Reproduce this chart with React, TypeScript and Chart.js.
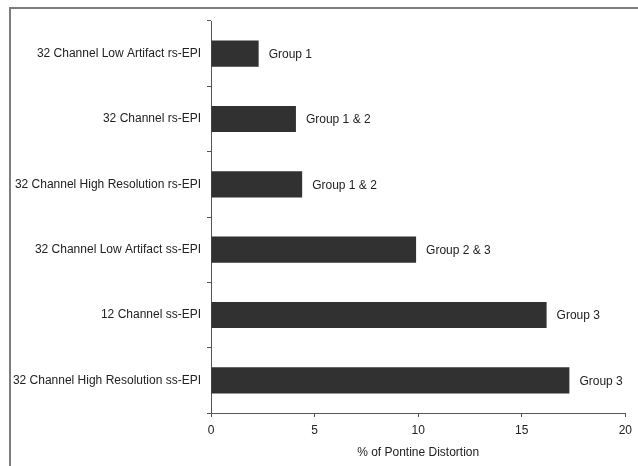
import React, { useEffect, useRef } from "react";
import { Chart, registerables } from "chart.js";

Chart.register(...registerables);

const categories = [
  "32 Channel Low Artifact rs-EPI",
  "32 Channel rs-EPI",
  "32 Channel High Resolution rs-EPI",
  "32 Channel Low Artifact ss-EPI",
  "12 Channel ss-EPI",
  "32 Channel High Resolution ss-EPI",
];
const distortion = [2.3, 4.1, 4.4, 9.9, 16.2, 17.3];
const groupLabels = ["Group 1", "Group 1 & 2", "Group 1 & 2", "Group 2 & 3", "Group 3", "Group 3"];
const xTicks = [0, 5, 10, 15, 20];
const xTitle = "% of Pontine Distortion";

const FONT = "'Liberation Sans', Arial, sans-serif";

const groupLabelPlugin = {
  id: "groupLabels",
  afterDatasetsDraw(chart: any) {
    const ctx = chart.ctx;
    const meta = chart.getDatasetMeta(0);
    ctx.save();
    ctx.font = `12px ${FONT}`;
    ctx.fillStyle = "#222";
    ctx.textBaseline = "middle";
    ctx.textAlign = "left";
    meta.data.forEach((bar: any, i: number) => {
      ctx.fillText(groupLabels[i], bar.x + 10, bar.y + 1);
    });
    ctx.restore();
  },
};

export default function App() {
  const ref = useRef<HTMLCanvasElement | null>(null);
  useEffect(() => {
    if (!ref.current) return;
    const chart = new Chart(ref.current, {
      type: "bar",
      data: {
        labels: categories,
        datasets: [
          {
            data: distortion,
            backgroundColor: "#313131",
            borderWidth: 0,
            categoryPercentage: 1,
            barPercentage: 0.4,
          },
        ],
      },
      options: {
        indexAxis: "y",
        animation: false,
        responsive: false,
        layout: { padding: { top: 21, right: 10, left: 0, bottom: 0 } },
        plugins: { legend: { display: false }, tooltip: { enabled: false } },
        scales: {
          x: {
            min: 0,
            max: 20,
            afterBuildTicks: (s: any) => {
              s.ticks = xTicks.map((v) => ({ value: v }));
            },
            afterFit: (s: any) => {
              s.height = 53;
            },
            grid: { display: true, drawOnChartArea: false, drawTicks: true, tickLength: 4, color: "#555" },
            border: { display: true, color: "#555", width: 1 },
            ticks: { color: "#222", padding: 6, font: { family: FONT, size: 12 }, maxRotation: 0 },
            title: {
              display: true,
              text: xTitle,
              color: "#222",
              font: { family: FONT, size: 12 },
              padding: { top: 0, bottom: 6 },
            },
          },
          y: {
            afterFit: (s: any) => {
              s.width = 211;
            },
            grid: { display: true, drawOnChartArea: false, drawTicks: true, tickLength: 4, color: "#555", offset: true },
            border: { display: true, color: "#555", width: 1 },
            ticks: { color: "#222", padding: 6, font: { family: FONT, size: 12 } },
          },
        },
      },
      plugins: [groupLabelPlugin],
    });
    return () => chart.destroy();
  }, []);

  return (
    <div style={{ position: "fixed", left: 0, top: 0, width: 638, height: 466, background: "#fff" }}>
      <canvas ref={ref} width={638} height={466} style={{ position: "absolute", left: 0, top: 0 }} />
      <div
        style={{
          position: "absolute",
          left: 9,
          top: 7,
          right: 0,
          bottom: 0,
          borderLeft: "2px solid #7d7d7d",
          borderTop: "2px solid #7d7d7d",
          pointerEvents: "none",
        }}
      />
    </div>
  );
}
